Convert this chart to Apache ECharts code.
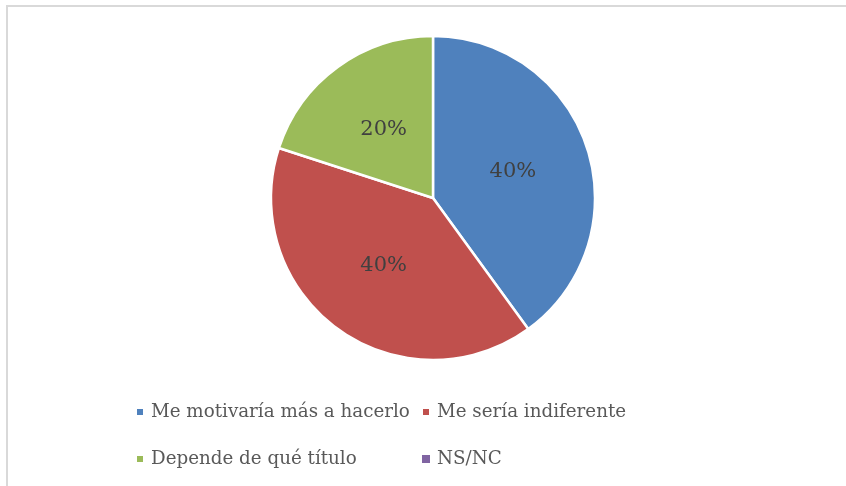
<!DOCTYPE html>
<html>
<head>
<meta charset="utf-8">
<script src="https://cdn.jsdelivr.net/npm/echarts@6/dist/echarts.min.js"></script>
<style>
  html, body { margin: 0; padding: 0; background: #fff; }
  #chart { width: 846px; height: 486px; }
</style>
</head>
<body>
<div id="chart"></div>
<script>
// answer categories and their share
var categories = ['Me motivaría más a hacerlo', 'Me sería indiferente', 'Depende de qué título', 'NS/NC'];
var values = [40, 40, 20, 0];
var colors = ['#4F81BD', '#C0504D', '#9BBB59', '#8064A2'];

var FONT = "'DejaVu Serif', serif";

var chart = echarts.init(document.getElementById('chart'));

var pieData = categories.map(function (name, i) {
  var item = { name: name, value: values[i] };
  if (values[i] === 0) {
    item.itemStyle = { borderWidth: 0 };
    item.label = { show: false };
  }
  return item;
});

var legendText = { color: '#595959', fontFamily: FONT, fontSize: 18.3, padding: [0, 0, 0, 2] };

chart.setOption({
  animation: false,
  color: colors,
  // chart frame: only the left and top edges are visible
  graphic: [{
    type: 'polyline',
    shape: { points: [[7, 600], [7, 6], [1000, 6]] },
    style: { fill: 'none', stroke: '#d9d9d9', lineWidth: 2 },
    silent: true
  }],
  legend: [{
    left: 130, top: 398,
    orient: 'vertical',
    icon: 'rect', itemWidth: 8, itemHeight: 8, itemGap: 29,
    data: [categories[0], categories[2]],
    textStyle: legendText
  }, {
    left: 416, top: 398,
    orient: 'vertical',
    icon: 'rect', itemWidth: 8, itemHeight: 8, itemGap: 29,
    data: [categories[1], categories[3]],
    textStyle: legendText
  }],
  series: [{
    type: 'pie',
    center: [433, 198],
    radius: [0, 162],
    startAngle: 90,
    clockwise: true,
    itemStyle: { borderColor: '#fff', borderWidth: 2.5 },
    label: {
      position: 'inner',
      formatter: '{d}%',
      color: '#404040',
      fontFamily: FONT,
      fontSize: 21
    },
    labelLine: { show: false },
    emphasis: { disabled: true },
    data: pieData
  }]
});
</script>
</body>
</html>
